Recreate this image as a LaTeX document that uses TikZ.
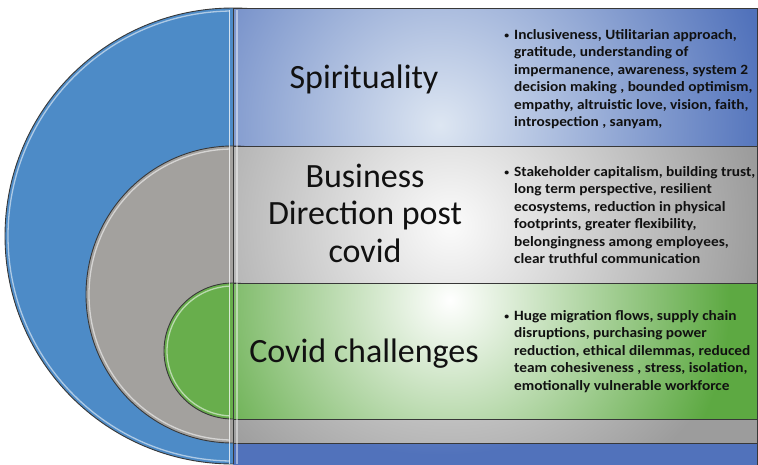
\documentclass[tikz,border=0pt]{standalone}
\usepackage{fontspec}
\setmainfont{Carlito}
\newfontfamily\bulfont[FakeStretch=1.08]{Carlito}
\definecolor{blueE}{HTML}{4D8BC7}
\definecolor{blueD}{HTML}{5172BB}
\definecolor{blueL}{HTML}{DDE6F2}
\definecolor{grayE}{HTML}{A3A19E}
\definecolor{grayD}{HTML}{9C9C9C}
\definecolor{grayL}{HTML}{FBFBFB}
\definecolor{greenE}{HTML}{68AE4C}
\definecolor{greenD}{HTML}{5DA942}
\definecolor{edgec}{HTML}{383838}
\definecolor{txt}{HTML}{111111}
\newcommand{\mybul}{\llap{\raisebox{0.5pt}{\fontsize{9}{9}\selectfont\textbullet}\hspace{5pt}}}
\begin{document}
\begin{tikzpicture}[x=1pt,y=-1pt,
  edgeline/.style={draw=edgec, line width=0.9pt},
  shine/.style={draw=white, line width=1.3pt, opacity=0.55},
  lab/.style={inner sep=0pt, text=txt, font=\fontsize{34}{37.5}\selectfont, align=center},
  bul/.style={inner sep=0pt, text=txt, anchor=base west, align=left,
              font=\bulfont\bfseries\fontsize{14.2}{17.5}\selectfont}]
\clip (0,0) rectangle (758,464);
\fill[white] (0,0) rectangle (758,464);
% ---------- blue layer ----------
\fill[blueE] (233,236) ellipse [x radius=228, y radius=228];
\draw[edgeline] (233,236) ellipse [x radius=228, y radius=228];
\begin{scope}
  \clip (0,0) rectangle (229,464);
  \draw[shine] (233,236) ellipse [x radius=225, y radius=225];
\end{scope}
\begin{scope}
  \clip (233,8) rectangle (760,470);
  \fill[blueD] (233,8) rectangle (760,470);
  \shade[inner color=blueL, outer color=blueD] (440,125) circle (330);
\end{scope}
\draw[edgeline] (233,8) -- (757,8) -- (757,470);
% ---------- gray layer ----------
\fill[grayE] (233,294.5) ellipse [x radius=147, y radius=148.5];
\draw[edgeline] (233,294.5) ellipse [x radius=147, y radius=148.5];
\begin{scope}
  \clip (0,0) rectangle (229,464);
  \draw[shine] (233,294.5) ellipse [x radius=144, y radius=145.5];
\end{scope}
\begin{scope}
  \clip (233,146) rectangle (757,443);
  \fill[grayD] (233,146) rectangle (757,443);
  \shade[inner color=grayL, outer color=grayD] (450,225) circle (310);
\end{scope}
\draw[edgeline] (233,146) rectangle (757,443);
% ---------- green layer ----------
\fill[greenE] (233,351) ellipse [x radius=69, y radius=68];
\draw[edgeline] (233,351) ellipse [x radius=69, y radius=68];
\begin{scope}
  \clip (0,0) rectangle (229,464);
  \draw[shine] (233,351) ellipse [x radius=66, y radius=65];
\end{scope}
\begin{scope}
  \clip (233,283) rectangle (757,419);
  \fill[greenD] (233,283) rectangle (757,419);
  \shade[inner color=white, outer color=greenD] (450,300) circle (280);
\end{scope}
\draw[edgeline] (233,283) rectangle (757,419);
% ---------- separator ----------
\draw[white, line width=1.4pt, opacity=0.75] (229.5,10) -- (229.5,464);
\draw[white, line width=1.4pt, opacity=0.45] (237,10) -- (237,464);
\draw[edgeline] (233,8) -- (233,464);
% ---------- labels ----------
\node[lab, anchor=base] (spi) at (364,88) {Spirituality};
\node[lab, anchor=base] (bus) at (365,262) {Business\\Direction post\\covid};
\node[lab, anchor=base] (cov) at (364,362) {Covid challenges};
% ---------- bullet texts ----------
\node[bul] (spit) at (514,126.5) {\mybul Inclusiveness, Utilitarian approach,\\
gratitude, understanding of\\
impermanence, awareness, system 2\\
decision making , bounded optimism,\\
empathy, altruistic love, vision, faith,\\
introspection , sanyam,};
\node[bul] (bust) at (514,263.5) {\mybul Stakeholder capitalism, building trust,\\
long term perspective, resilient\\
ecosystems, reduction in physical\\
footprints, greater flexibility,\\
belongingness among employees,\\
clear truthful communication};
\node[bul] (covt) at (514,390) {\mybul Huge migration flows, supply chain\\
disruptions, purchasing power\\
reduction, ethical dilemmas, reduced\\
team cohesiveness , stress, isolation,\\
emotionally vulnerable workforce};
\end{tikzpicture}
\end{document}
